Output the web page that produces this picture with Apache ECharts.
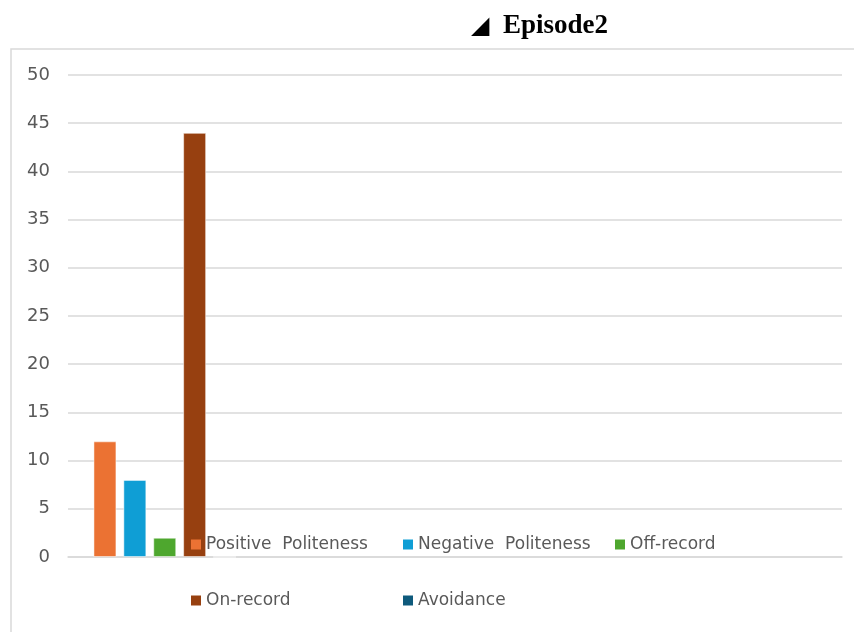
<!DOCTYPE html>
<html>
<head>
<meta charset="utf-8">
<script src="https://cdn.jsdelivr.net/npm/echarts@6/dist/echarts.min.js"></script>
<style>
  html, body { margin: 0; padding: 0; background: #fff; }
  #chart { width: 854px; height: 632px; }
</style>
</head>
<body>
<div id="chart"></div>
<script>
// categories on x axis (only the first one holds data)
var categories = ['Episode2', '', '', ''];
var seriesNames = ['Positive  Politeness', 'Negative  Politeness', 'Off-record', 'On-record', 'Avoidance'];
var positivePoliteness = [12, null, null, null];
var negativePoliteness = [8, null, null, null];
var offRecord = [2, null, null, null];
var onRecord = [44, null, null, null];
var avoidance = [0, null, null, null];
var yTicks = [0, 5, 10, 15, 20, 25, 30, 35, 40, 45, 50];

var colors = ['#EB7233', '#0F9ED5', '#4EA72E', '#974010', '#0E5A7C'];
var values = [positivePoliteness, negativePoliteness, offRecord, onRecord, avoidance];

// legend slots (x, y) like the original layout
var legendPos = [[191, 536], [403, 536], [615, 536], [191, 592], [403, 592]];

var chart = echarts.init(document.getElementById('chart'), null, { renderer: 'canvas' });

var legends = seriesNames.map(function (name, i) {
  return {
    data: [name],
    left: legendPos[i][0],
    top: legendPos[i][1],
    padding: 0,
    icon: 'rect',
    itemWidth: 10,
    itemHeight: 10,
    selectedMode: false,
    itemStyle: { borderWidth: 0 },
    textStyle: { fontSize: 17, color: '#595959', fontFamily: 'DejaVu Sans' }
  };
});

chart.setOption({
  animation: false,
  title: {
    text: '{t|◢}  Episode2',
    left: 466,
    top: 8,
    textStyle: {
      fontFamily: 'Liberation Serif',
      fontWeight: 'bold',
      fontSize: 27,
      color: '#000',
      rich: { t: { fontFamily: 'DejaVu Sans', fontSize: 24, color: '#000' } }
    }
  },
  graphic: [{
    type: 'rect',
    silent: true,
    shape: { x: 11, y: 49, width: 900, height: 700 },
    style: { fill: 'none', stroke: '#d9d9d9', lineWidth: 1.5 },
    z: -1
  }],
  legend: legends,
  grid: { left: 68, right: 12, top: 75, bottom: 75 },
  xAxis: {
    type: 'category',
    data: categories,
    axisLine: { show: true, lineStyle: { color: '#d9d9d9', width: 1.5 } },
    axisTick: { show: false },
    axisLabel: { show: false }
  },
  yAxis: {
    type: 'value',
    min: yTicks[0],
    max: yTicks[yTicks.length - 1],
    interval: 5,
    axisLine: { show: false },
    axisTick: { show: false },
    axisLabel: { fontSize: 18, color: '#595959', fontFamily: 'DejaVu Sans', margin: 18 },
    splitLine: { lineStyle: { color: '#d9d9d9', width: 1.5 } }
  },
  series: seriesNames.map(function (name, i) {
    return {
      name: name,
      type: 'bar',
      data: values[i],
      barWidth: 23,
      barGap: '30%',
      itemStyle: { color: colors[i], borderColor: 'rgba(255,255,255,0.5)', borderWidth: 1 }
    };
  })
});
</script>
</body>
</html>
